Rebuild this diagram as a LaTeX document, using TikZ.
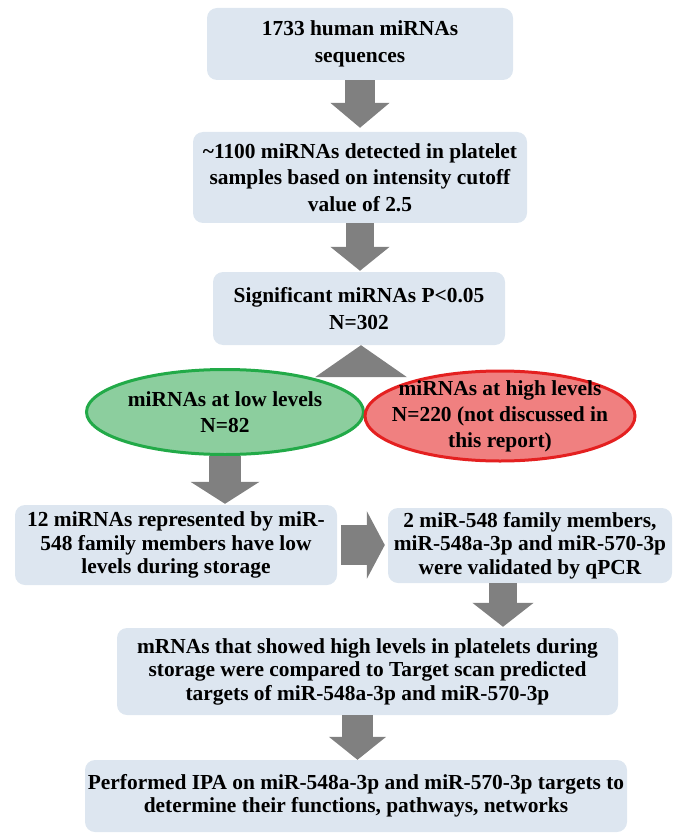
\documentclass[tikz,border=0pt]{standalone}
\usepackage{fontspec}
\setmainfont{Liberation Serif}
\usepackage{tikz}
\usetikzlibrary{arrows.meta,shapes.geometric,calc}

\definecolor{boxfill}{RGB}{221,230,240}
\definecolor{arrowgray}{RGB}{128,128,128}
\definecolor{lowfill}{RGB}{140,206,158}
\definecolor{lowline}{RGB}{34,170,72}
\definecolor{highfill}{RGB}{240,128,128}
\definecolor{highline}{RGB}{228,32,32}

\begin{document}
\begin{tikzpicture}[x=1pt,y=-1pt,
  box/.style={fill=boxfill,rounded corners=10pt,align=center,inner sep=0pt,
    font=\fontsize{21.4}{26.5}\selectfont\bfseries},
  tight/.style={box,font=\fontsize{21.4}{23.5}\selectfont\bfseries},
  lowell/.style={ellipse,draw=lowline,fill=lowfill,line width=3pt,inner sep=0pt},
  highell/.style={ellipse,draw=highline,fill=highfill,line width=3pt,inner sep=0pt},
  eltext/.style={align=center,inner sep=0pt,font=\fontsize{21.4}{26}\selectfont\bfseries},
  fat/.style n args={3}{draw=arrowgray,line width=#1,-{Triangle[width=#2,length=#3]}}]
\useasboundingbox (0,0) rectangle (681,834);

\node[box,minimum width=306pt,minimum height=72pt] (seq) at (360,44) {1733 human miRNAs\\sequences};
\node[box,minimum width=334pt,minimum height=91pt] (det) at (360,177.5) {\textasciitilde1100 miRNAs detected in platelet\\samples based on intensity cutoff\\value of 2.5};
\node[box,minimum width=292pt,minimum height=73pt] (sig) at (359,308.5) {Significant miRNAs P<0.05\\N=302};

% split into low and high
\fill[arrowgray] ($(sig.south)+(2,0)$) -- ++(-46,32) -- ++(92,0) -- cycle;
\node[lowell,minimum width=277pt,minimum height=85pt] (low) at (225,412) {};
\node[highell,minimum width=270pt,minimum height=90pt] (high) at (500,416) {};
\node[eltext] (lowtxt) at (low) {miRNAs at low levels\\N=82};
\node[eltext] (hightxt) at (high) {miRNAs at high levels\\N=220 (not discussed in\\this report)};

\node[tight,minimum width=322pt,minimum height=80pt] (fam) at (176,545) {12 miRNAs represented by miR-\\548 family members have low\\levels during storage};
\node[tight,minimum width=284pt,minimum height=75pt] (val) at (530,545.5) {2 miR-548 family members,\\miR-548a-3p and miR-570-3p\\were validated by qPCR};
\node[tight,minimum width=501pt,minimum height=87pt] (cmp) at (367.5,671.5) {mRNAs that showed high levels in platelets during\\storage were compared to Target scan predicted\\targets of miR-548a-3p and miR-570-3p};
\node[tight,minimum width=542pt,minimum height=72pt] (ipa) at (356,796) {Performed IPA on miR-548a-3p and miR-570-3p targets to\\determine their functions, pathways, networks};

% block arrows
\coordinate (valout) at ($(val.south)+(-27,0)$);
\coordinate (cmpout) at ($(cmp.south)+(-10,0)$);
\draw[fat={30pt}{58pt}{25pt},shorten >=4pt] (seq.south) -- (det.north);
\draw[fat={28pt}{58pt}{24pt},shorten >=1pt] (det.south) -- (det.south |- sig.north);
\draw[fat={32pt}{68pt}{22pt},shorten >=1pt] (low.south) -- (low.south |- fam.north);
\draw[fat={40pt}{67pt}{18pt},shorten <=4pt,shorten >=3pt] (fam.east) -- (fam.east -| val.west);
\draw[fat={28pt}{60pt}{24pt},shorten >=1pt] (valout) -- (valout |- cmp.north);
\draw[fat={31pt}{56pt}{23pt}] (cmpout) -- (cmpout |- ipa.north);
\end{tikzpicture}
\end{document}
